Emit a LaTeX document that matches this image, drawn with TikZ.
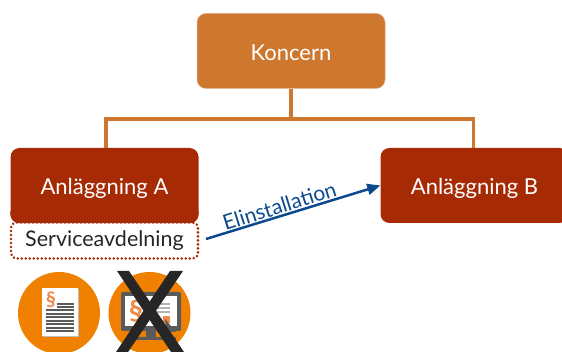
\documentclass[tikz,border=0pt]{standalone}
\usepackage{fontspec}
\setmainfont{Lato}
\usetikzlibrary{arrows.meta, positioning}
\definecolor{koncernc}{HTML}{CE772F}
\definecolor{anlc}{HTML}{A62B05}
\definecolor{iconc}{HTML}{F08000}
\definecolor{paragc}{HTML}{F08A4B}
\definecolor{elinc}{HTML}{0B4A8F}
\definecolor{darkc}{HTML}{5A5A5A}
\tikzset{
    orgbox/.style={rounded corners=9pt, minimum width=188pt, minimum height=75pt,
        inner sep=0pt, text=white, text height=19pt, text depth=0pt, font=\fontsize{22}{25}\selectfont},
    bar/.style={koncernc, line width=3.4pt},
    iconcirc/.style={circle, fill=iconc, minimum size=82pt, inner sep=0pt},
    cross/.style={fill=black!85},
}
\begin{document}
\begin{tikzpicture}[x=1pt, y=-1pt]
\useasboundingbox (0,0) rectangle (562,352);
\node (koncern) [orgbox, fill=koncernc, draw=koncernc!60!white, line width=0.5pt] at (291,51) {Koncern};
\node (anlA) [orgbox, fill=anlc] at (104.5,185.5) {Anläggning A};
\node (anlB) [orgbox, fill=anlc] at (474.5,185.5) {Anläggning B};
\coordinate (bus) at (291,119);

\draw [bar] (koncern.south) -- (bus);
\draw [bar] (bus) -| ([xshift=1.5pt]anlA.north);
\draw [bar] (bus) -| ([xshift=-1pt]anlB.north);

% dotted box under A
\node (service) [draw=anlc, line width=2.6pt, line cap=round, dash pattern=on 0.2pt off 3.8pt, rounded corners=5pt,
    minimum width=187pt, minimum height=36pt, inner sep=0pt, text=black!85, text height=13pt, text depth=0pt,
    font=\fontsize{21.5}{25}\selectfont] at (104.5,240.5) {Serviceavdelning};
\fill [anlc] (anlA.south west) ++(0,-12) [rounded corners=9pt] -- (anlA.south west) -- (anlA.south east) [sharp corners] -- ++(0,-12) -- cycle;

\draw [elinc, line width=2.5pt, -{Triangle[length=13pt, width=11pt]}] (206,239) -- (anlB.west);
\node (elin) [elinc, rotate=17.5, font=\fontsize{21}{25}\selectfont, inner sep=0pt] at (279.5,206) {Elinstallation};

% paper icon
\node (paper) [iconcirc] at (59,313) {};
\fill [black!25] (43,289) rectangle (79,337);
\fill [white] (42,288) rectangle (78,336);
\node (paragA) [paragc, font=\bfseries\fontsize{20}{20}\selectfont, inner sep=0pt] at (51,299.5) {§};
\foreach \yy in {303,306}
    \fill [darkc] (57,\yy) rectangle (74,\yy+1.6);
\foreach \yy in {309.5,313,316.5,320,323.5,327,330.5}
    \fill [darkc] (46,\yy) rectangle (74,\yy+1.6);

% screen icon
\node (screen) [iconcirc] at (149.5,313) {};
\fill [darkc] (146,331) rectangle (156,337);
\fill [darkc, rounded corners=1pt] (126,337) rectangle (176,340);
\fill [darkc, rounded corners=1.5pt] (121,292) rectangle (181,331);
\fill [white] (125,296) rectangle (177,326);
\node (paragB) [paragc, font=\bfseries\fontsize{28}{28}\selectfont, inner sep=0pt] at (136,311.5) {§};
\foreach \yy in {303,307,311}
    \fill [black!30] (146,\yy) rectangle (170,\yy+1.6);
\fill [paragc] (163,316) rectangle (170,323);
\fill [darkc] (165,319) -- (176,332) -- (170,332) -- (172,336) -- (169,336) -- (166,331) -- cycle;

% crossing out
\fill [cross] (117,271) -- (129,271) -- (184,352) -- (171,352) -- cycle;
\fill [cross] (170,271) -- (183,271) -- (128,352) -- (116,352) -- cycle;
\end{tikzpicture}
\end{document}
